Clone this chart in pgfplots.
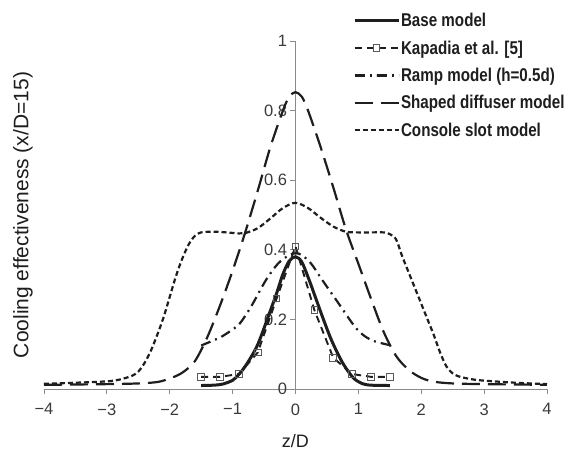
\documentclass[border=0pt]{standalone}
\usepackage{pgfplots}
\pgfplotsset{compat=1.18}
\usepackage{fontspec}
\setmainfont{Liberation Sans}
\newfontfamily\narrowfont[FakeStretch=0.82]{Liberation Sans}
\definecolor{axisgray}{HTML}{8A8A8A}
\definecolor{linecol}{HTML}{1E1E1E}
\definecolor{tickcol}{HTML}{3A3A3A}
\begin{document}
\begin{tikzpicture}
\useasboundingbox (-44pt,-64pt) rectangle (527pt,389pt);
\begin{axis}[
  at={(0pt,0pt)}, anchor=south west,
  scale only axis, width=503pt, height=348pt,
  xmin=-4, xmax=4, ymin=0, ymax=1,
  axis x line=bottom, axis y line=center,
  hide obscured x ticks=false, hide obscured y ticks=false,
  axis line style={draw=axisgray, line width=0.8pt, -},
  every inner y axis line/.append style={-},
  every outer x axis line/.append style={-},
  tick style={draw=axisgray, line width=0.8pt},
  tick align=outside, major tick length=5pt,
  xtick={-4,-3,-2,-1,0,1,2,3,4},
  xticklabels={−4,−3,−2,−1,0,1,2,3,4},
  ytick={0,0.2,0.4,0.6,0.8,1},
  yticklabels={0,0.2,0.4,0.6,0.8,1},
  tick label style={font=\fontsize{16.5}{19}\selectfont, text=tickcol},
  xticklabel style={yshift=-6pt},
  clip=false,
  xlabel={z/D},
  ylabel={Cooling effectiveness (x/D=15)},
  every axis x label/.style={at={(axis description cs:0.5,-0.15)}, anchor=center, font=\fontsize{18}{21}\selectfont, text=linecol},
  every axis y label/.style={at={(axis description cs:-0.042,0.5)}, rotate=90, anchor=center, font=\fontsize{21}{24}\selectfont, text=linecol},
  legend style={at={(0.614,1.083)}, anchor=north west, draw=none, fill=none,
    font=\narrowfont\bfseries\fontsize{18.5}{20}\selectfont, text=linecol,
    row sep=10.5pt, inner sep=0pt, nodes={inner sep=1pt}},
  legend cell align=left,
  legend image code/.code={\draw[mark repeat=2,mark phase=2,#1] plot coordinates {(0pt,0pt) (22pt,0pt) (44pt,0pt)};},
]
% Base model
\addplot[linecol, line width=3pt, smooth] table {
x y
-1.5 0.010
-1.3 0.011
-1.16 0.014
-1.0 0.025
-0.9 0.042
-0.8 0.065
-0.68 0.100
-0.6 0.128
-0.52 0.165
-0.4 0.225
-0.3 0.275
-0.2 0.330
-0.1 0.368
0 0.380
0.1 0.365
0.22 0.312
0.3 0.272
0.43 0.207
0.55 0.150
0.65 0.110
0.75 0.075
0.86 0.045
0.95 0.027
1.07 0.015
1.2 0.011
1.5 0.010
};
\addlegendentry{Base model}
% Kapadia et al.
\addplot[linecol, line width=1.9pt, dash pattern=on 7pt off 5pt,
  mark=square, mark size=3.3pt, mark options={solid, draw=black!65, line width=0.9pt, fill=white}] table {
x y
-1.5 0.035
-1.2 0.035
-0.9 0.043
-0.6 0.105
-0.3 0.260
0 0.410
0.3 0.227
0.6 0.090
0.9 0.043
1.2 0.035
1.5 0.035
};
\addlegendentry{Kapadia et al. [5]}
% Ramp model
\addplot[linecol, line width=2.2pt, dash pattern=on 10pt off 5pt on 2pt off 5pt, smooth] table {
x y
-1.5 0.125
-1.3 0.140
-1.16 0.152
-0.92 0.182
-0.8 0.210
-0.68 0.245
-0.47 0.313
-0.28 0.360
-0.1 0.385
0 0.390
0.1 0.385
0.25 0.360
0.43 0.312
0.67 0.250
0.94 0.180
1.1 0.152
1.26 0.137
1.5 0.126
};
\addlegendentry{Ramp model (h=0.5d)}
% Shaped diffuser
\addplot[linecol, line width=2.2pt, dash pattern=on 18pt off 8pt, smooth] table {
x y
-4 0.012
-3 0.014
-2.5 0.016
-2.2 0.020
-2.0 0.030
-1.8 0.047
-1.6 0.080
-1.4 0.150
-1.2 0.240
-1.0 0.340
-0.8 0.450
-0.6 0.570
-0.4 0.695
-0.2 0.800
-0.1 0.840
0 0.853
0.1 0.840
0.2 0.800
0.4 0.695
0.6 0.580
0.8 0.460
1.0 0.360
1.2 0.260
1.4 0.165
1.6 0.095
1.8 0.055
2.0 0.032
2.2 0.021
2.5 0.016
3 0.014
4 0.012
};
\addlegendentry{Shaped diffuser model}
% Console slot
\addplot[linecol, line width=2.2pt, dash pattern=on 5pt off 3pt, smooth] table {
x y
-4 0.015
-3.5 0.018
-3 0.022
-2.8 0.027
-2.6 0.038
-2.5 0.050
-2.4 0.075
-2.3 0.110
-2.2 0.155
-2.1 0.205
-2.0 0.265
-1.9 0.325
-1.8 0.375
-1.7 0.415
-1.6 0.440
-1.5 0.450
-1.3 0.452
-1.1 0.450
-0.9 0.447
-0.8 0.448
-0.6 0.462
-0.4 0.490
-0.2 0.520
0 0.535
0.2 0.520
0.4 0.492
0.6 0.467
0.8 0.452
1.0 0.450
1.2 0.450
1.4 0.450
1.5 0.445
1.6 0.430
1.7 0.380
1.8 0.335
1.9 0.290
2.0 0.245
2.1 0.200
2.2 0.155
2.3 0.105
2.4 0.065
2.5 0.045
2.6 0.036
2.8 0.028
3 0.024
3.5 0.018
4 0.014
};
\addlegendentry{Console slot model}
\end{axis}
\end{tikzpicture}
\end{document}
